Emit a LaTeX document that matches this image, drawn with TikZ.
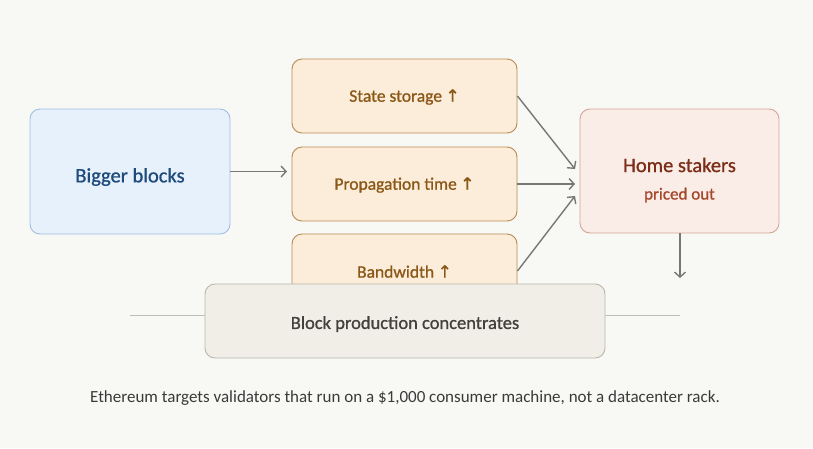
\documentclass[tikz,border=0pt]{standalone}
\usepackage{fontspec}
\setmainfont{Carlito}
\newfontfamily\medfont{Carlito}[FakeBold=0.9]
\newfontfamily\arrfont{DejaVu Sans}[FakeBold=0.8]
\usetikzlibrary{arrows.meta}
\definecolor{bgc}{HTML}{F8F8F5}
\definecolor{bigfill}{HTML}{E7F1FB}
\definecolor{bigdraw}{HTML}{9FC0E2}
\definecolor{bigtext}{HTML}{1E4A7C}
\definecolor{midfill}{HTML}{FBEDD9}
\definecolor{middraw}{HTML}{B88A4F}
\definecolor{midtext}{HTML}{8A5716}
\definecolor{homefill}{HTML}{FAECE7}
\definecolor{homedraw}{HTML}{D4A497}
\definecolor{hometext}{HTML}{7B2D17}
\definecolor{homesub}{HTML}{A4472B}
\definecolor{botfill}{HTML}{F1EEE7}
\definecolor{botdraw}{HTML}{BAB6AE}
\definecolor{bottext}{HTML}{43413E}
\definecolor{arrc}{HTML}{777874}
\definecolor{linec}{HTML}{BDBDBA}
\definecolor{capc}{HTML}{3A3A3A}
\newcommand{\uparr}{\hspace{0.2em}{\arrfont\fontsize{17}{20}\selectfont ↑}}
\begin{document}
\begin{tikzpicture}[x=1pt,y=-1pt,
  boxstyle/.style={rounded corners=10pt, line width=0.9pt, inner sep=0pt, align=center},
  bigbox/.style={boxstyle, fill=bigfill, draw=bigdraw, minimum width=200pt, minimum height=125pt},
  midbox/.style={boxstyle, fill=midfill, draw=middraw, minimum width=225pt, minimum height=74pt},
  homebox/.style={boxstyle, fill=homefill, draw=homedraw, minimum width=199pt, minimum height=124pt},
  botbox/.style={boxstyle, fill=botfill, draw=botdraw, minimum width=400pt, minimum height=74pt},
  midlabel/.style={text=midtext, font=\medfont\fontsize{17.5}{20}\selectfont},
  arr/.style={draw=arrc, line width=1.4pt, -{Straight Barb[length=5pt,width=11pt,line width=1.4pt]}}
]
\useasboundingbox[fill=bgc] (0,0) rectangle (813,448);
\draw[linec, line width=1pt] (130,315) -- (680,315);
\node[bigbox] (big) at (130,171.5) {};
\node[text=bigtext, font=\medfont\fontsize{20.5}{24}\selectfont] (bl) at (130,177) {Bigger blocks};
\node[midbox] (s1) at (404.5,96) {};
\node[midbox] (s2) at (404.5,184) {};
\node[midbox] (s3) at (404.5,271) {};
\node[midlabel] (l1) at (404.5,97) {State storage\uparr};
\node[midlabel] (l2) at (404.5,185) {Propagation time\uparr};
\node[midlabel] (l3) at (404.5,271.5) {Bandwidth\uparr};
\node[homebox] (home) at (679.5,171) {};
\node[text=hometext, font=\medfont\fontsize{20.5}{24}\selectfont] (hl) at (679.5,165) {Home stakers};
\node[text=homesub, font=\medfont\fontsize{17}{20}\selectfont] (hs) at (679.5,195) {priced out};
\node[botbox] (bot) at (405,321) {};
\node[text=bottext, font=\medfont\fontsize{18.5}{22}\selectfont] (botl) at (405,324) {Block production concentrates};
\coordinate (t1) at (575,169);
\coordinate (t2) at (575,184);
\coordinate (t3) at (575,196);
\coordinate (bb) at (287,171.5);
\coordinate (hd) at (680,278);
\draw[arr] (big.east) -- (bb);
\draw[arr] (s1.east) -- (t1);
\draw[arr] (s2.east) -- (t2);
\draw[arr] (s3.east) -- (t3);
\draw[arr] (home.south -| hd) -- (hd);
\node[text=capc, font=\fontsize{17}{20}\selectfont] (cap) at (405,398) {Ethereum targets validators that run on a \$1,000 consumer machine, not a datacenter rack.};
\end{tikzpicture}
\end{document}
